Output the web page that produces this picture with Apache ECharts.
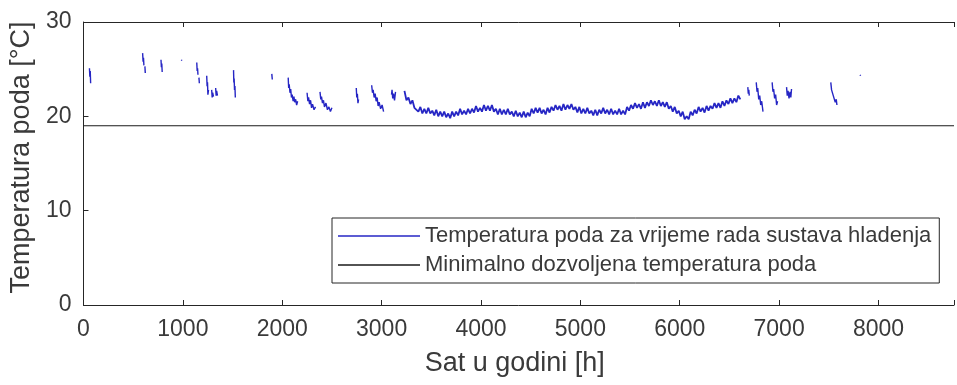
<!DOCTYPE html>
<html>
<head>
<meta charset="utf-8">
<script src="https://cdn.jsdelivr.net/npm/echarts@6/dist/echarts.min.js"></script>
<style>html,body{margin:0;padding:0;background:#fff;}#c{width:957px;height:385px;}</style>
</head>
<body>
<div id="c"></div>
<script>
// tick values
const xTicks = [0, 1000, 2000, 3000, 4000, 5000, 6000, 7000, 8000];
const yTicks = [0, 10, 20, 30];
const xMax = 8760;
const minTemp = 19;
const seriesNames = ['Temperatura poda za vrijeme rada sustava hladenja', 'Minimalno dozvoljena temperatura poda'];

// Short cooling periods: hours / floor temperatures
const segHours = [
  [60, 64, 68, 72],
  [595, 600, 604, 608],
  [618, 622],
  [780, 784, 788, 792],
  [985, 990],
  [1140, 1144, 1148, 1152],
  [1162, 1166],
  [1240, 1244, 1248, 1252, 1258],
  [1290, 1295, 1300, 1308],
  [1330, 1335, 1340, 1348],
  [1510, 1513, 1516, 1520, 1524, 1528],
  [1895, 1900],
  [2060, 2065, 2070, 2078, 2085, 2093, 2100, 2110, 2118, 2125, 2135, 2145, 2155],
  [2250, 2258, 2265, 2275, 2285, 2295, 2305, 2320, 2335],
  [2380, 2388, 2395, 2405, 2415, 2425, 2440, 2455, 2470, 2485, 2500],
  [2745, 2750, 2756, 2762, 2768],
  [2900, 2908, 2915, 2925, 2935, 2945, 2955, 2965, 2975, 2990, 3005, 3020],
  [3100, 3105, 3112, 3120, 3130, 3140],
  [6685, 6690, 6695, 6700],
  [6770, 6778, 6785, 6795, 6805, 6815, 6825, 6838],
  [6930, 6938, 6945, 6955, 6965, 6975, 6985],
  [7075, 7082, 7090, 7100, 7110, 7118, 7125],
  [7520, 7528, 7535, 7545, 7555, 7565, 7575, 7582],
  [7815, 7820]
];
const segTemps = [
  [25.1, 24.2, 24.8, 23.5],
  [26.7, 25.8, 26.2, 25.4],
  [25.3, 24.6],
  [26.0, 25.2, 25.6, 24.7],
  [26.0, 25.9],
  [25.7, 24.8, 25.1, 24.4],
  [24.1, 23.5],
  [24.3, 23.2, 23.6, 22.3, 22.8],
  [22.8, 22.0, 22.5, 22.1],
  [23.0, 22.2, 22.7, 22.2],
  [24.9, 23.6, 24.0, 22.8, 23.2, 22.0],
  [24.5, 23.9],
  [24.1, 23.0, 23.4, 22.5, 22.9, 22.0, 22.3, 21.6, 22.1, 21.5, 21.8, 21.2, 21.6],
  [22.5, 21.6, 22.0, 21.3, 21.7, 20.9, 21.3, 20.7, 21.0],
  [22.6, 21.8, 22.1, 21.4, 21.7, 21.0, 21.4, 20.7, 21.0, 20.5, 20.9],
  [23.0, 22.0, 22.4, 21.4, 21.8],
  [23.3, 22.5, 22.8, 22.0, 22.4, 21.6, 22.0, 21.1, 21.5, 20.8, 21.2, 20.5],
  [22.3, 22.8, 21.9, 22.4, 21.7, 22.6],
  [23.1, 22.4, 22.8, 22.2],
  [23.6, 22.6, 23.0, 21.8, 22.2, 21.2, 21.6, 20.5],
  [23.6, 22.6, 22.9, 21.9, 22.3, 21.2, 21.6],
  [23.1, 22.2, 22.7, 21.9, 22.6, 22.0, 22.9],
  [23.6, 22.8, 23.0, 22.2, 22.4, 21.5, 21.8, 21.2],
  [24.4, 24.3]
];

// Long continuous cooling period (hour 3230 .. 6610, one reading every 20 h)
const bandStartHour = 3230;
const bandStepHours = 20;
const bandTemps = [
  22.7, 21.7, 22.0, 21.3, 21.7, 20.9, 21.1, 20.5, 21.0, 20.3,
  20.8, 20.3, 20.9, 20.3, 20.6, 20.1, 20.7, 20.0, 20.5, 20.0,
  20.5, 19.9, 20.3, 19.8, 20.5, 20.0, 20.5, 20.1, 20.8, 20.2,
  20.6, 20.2, 20.8, 20.3, 20.8, 20.4, 21.1, 20.5, 20.9, 20.5,
  21.2, 20.6, 21.1, 20.6, 21.2, 20.5, 20.8, 20.2, 20.8, 20.2,
  20.7, 20.2, 20.8, 20.2, 20.5, 20.0, 20.6, 20.0, 20.4, 19.9,
  20.5, 19.9, 20.4, 20.0, 20.8, 20.3, 20.9, 20.4, 20.9, 20.3,
  20.7, 20.2, 20.9, 20.4, 21.0, 20.6, 21.2, 20.7, 21.1, 20.6,
  21.3, 20.7, 21.2, 20.8, 21.3, 20.7, 21.0, 20.4, 21.0, 20.3,
  20.8, 20.3, 20.9, 20.3, 20.6, 20.1, 20.7, 20.1, 20.7, 20.3,
  20.9, 20.3, 20.7, 20.2, 20.8, 20.2, 20.6, 20.2, 20.8, 20.2,
  20.6, 20.2, 21.0, 20.6, 21.2, 20.8, 21.4, 20.9, 21.3, 20.8,
  21.5, 20.9, 21.5, 21.1, 21.7, 21.2, 21.6, 21.1, 21.7, 21.1,
  21.5, 21.0, 21.5, 20.8, 21.1, 20.5, 21.0, 20.3, 20.6, 20.0,
  20.5, 19.7, 20.0, 19.7, 20.5, 20.1, 20.7, 20.3, 21.0, 20.5,
  20.9, 20.4, 21.1, 20.6, 21.1, 20.8, 21.4, 20.9, 21.4, 20.9,
  21.6, 21.1, 21.7, 21.3, 21.9, 21.4, 21.9, 21.5, 22.2, 21.8
];

const FONT = "'Liberation Sans', Arial, sans-serif";
const AX = '#262626';
const TXT = '#3a3a3a';
const BLUE = '#2626c4';

function blueSeries(points, w) {
  return {
    name: seriesNames[0],
    type: 'line',
    symbol: 'none',
    animation: false,
    lineStyle: { color: BLUE, width: w },
    itemStyle: { color: BLUE },
    data: points
  };
}

const series = segHours.map((hs, si) => blueSeries(hs.map((h, i) => [h, segTemps[si][i]]), 1.4));
series.push(blueSeries(bandTemps.map((t, i) => [bandStartHour + i * bandStepHours, t]), 1.8));
series.push({
  name: seriesNames[1],
  type: 'line',
  symbol: 'none',
  animation: false,
  lineStyle: { color: '#1a1a1a', width: 1.2 },
  itemStyle: { color: '#1a1a1a' },
  data: [[0, minTemp], [xMax, minTemp]]
});

const chart = echarts.init(document.getElementById('c'), null, { renderer: 'canvas' });
chart.setOption({
  backgroundColor: '#ffffff',
  animation: false,
  grid: { left: 81, top: 22, right: -4, bottom: 80, show: false },
  legend: {
    orient: 'vertical',
    left: 332, top: 218,
    data: seriesNames,
    icon: 'rect',
    itemWidth: 82, itemHeight: 1.3, itemGap: 7,
    padding: [7, 8, 7, 6],
    borderColor: AX, borderWidth: 1,
    backgroundColor: '#fff',
    textStyle: { fontFamily: FONT, fontSize: 22, color: TXT },
    selectedMode: false
  },
  xAxis: [{
    type: 'value', min: 0, max: xMax, interval: 1000,
    name: 'Sat u godini [h]', nameLocation: 'middle', nameGap: 45,
    nameTextStyle: { fontFamily: FONT, fontSize: 27, color: TXT, padding: [0, 8, 0, 0] },
    axisLine: { show: true, lineStyle: { color: AX, width: 1 } },
    axisTick: { show: true, inside: true, length: 5, lineStyle: { color: AX } },
    axisLabel: { fontFamily: FONT, fontSize: 23, color: TXT, margin: 13,
      formatter: v => xTicks.includes(v) ? String(v) : '' },
    splitLine: { show: false }
  }, {
    type: 'value', min: 0, max: xMax, interval: 1000, position: 'top',
    axisLine: { show: true, lineStyle: { color: AX, width: 1 } },
    axisTick: { show: true, inside: true, length: 5, lineStyle: { color: AX } },
    axisLabel: { show: false }, splitLine: { show: false }
  }],
  yAxis: [{
    type: 'value', min: 0, max: 30, interval: 10,
    name: 'Temperatura poda [°C]', nameLocation: 'middle', nameGap: 41,
    nameTextStyle: { fontFamily: FONT, fontSize: 27, color: TXT, padding: [0, 0, 0, 12] },
    axisLine: { show: true, lineStyle: { color: AX, width: 1 } },
    axisTick: { show: true, inside: true, length: 5, lineStyle: { color: AX } },
    axisLabel: { fontFamily: FONT, fontSize: 23, color: TXT, margin: 12,
      formatter: v => yTicks.includes(v) ? String(v) : '' },
    splitLine: { show: false }
  }],
  series: series
});
</script>
</body>
</html>
